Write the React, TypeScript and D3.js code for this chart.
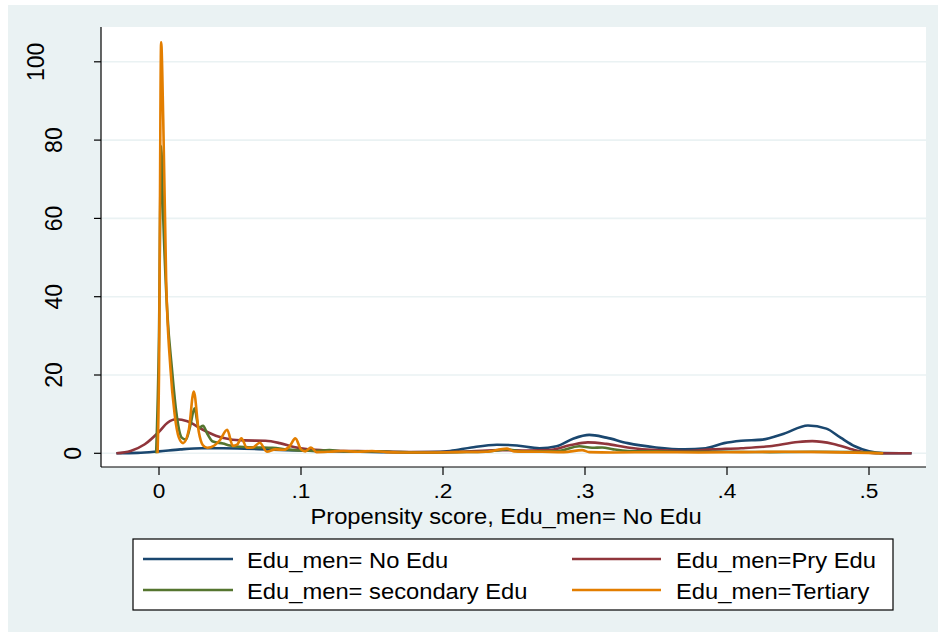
import React from 'react';
import * as d3 from 'd3';

type Pt = [number, number];

// kernel density estimates: [propensity score, density]
const noEduPts: Pt[] = [
  [-0.03, 0], [-0.015, 0.1], [0, 0.5], [0.015, 1.0], [0.03, 1.3], [0.045, 1.3], [0.06, 1.2],
  [0.075, 1.0], [0.09, 0.8], [0.11, 0.6], [0.13, 0.45], [0.15, 0.35], [0.17, 0.25], [0.19, 0.3],
  [0.205, 0.6], [0.22, 1.5], [0.238, 2.2], [0.252, 2.0], [0.268, 1.3], [0.28, 1.8], [0.292, 3.8],
  [0.303, 4.7], [0.315, 4.0], [0.33, 2.6], [0.35, 1.5], [0.37, 1.0], [0.385, 1.3], [0.398, 2.6],
  [0.41, 3.2], [0.425, 3.5], [0.44, 5.0], [0.457, 7.1], [0.47, 6.3], [0.48, 4.0], [0.49, 1.8],
  [0.5, 0.5], [0.51, 0.05], [0.53, 0],
];

const pryEduPts: Pt[] = [
  [-0.03, 0], [-0.02, 0.6], [-0.01, 2.3], [0, 5.5], [0.006, 7.8], [0.012, 8.7], [0.02, 8.2],
  [0.03, 6.2], [0.04, 4.5], [0.05, 3.6], [0.06, 3.3], [0.075, 3.2], [0.085, 2.6], [0.095, 1.6],
  [0.105, 1.0], [0.12, 0.7], [0.15, 0.5], [0.18, 0.3], [0.2, 0.3], [0.22, 0.5], [0.24, 0.8],
  [0.26, 0.7], [0.275, 0.8], [0.29, 2.1], [0.302, 2.8], [0.315, 2.4], [0.33, 1.5], [0.35, 0.8],
  [0.37, 0.6], [0.39, 1.0], [0.41, 1.3], [0.43, 1.8], [0.45, 2.9], [0.46, 3.1], [0.475, 2.4],
  [0.49, 0.8], [0.5, 0.15], [0.51, 0], [0.53, 0],
];

const secEduPts: Pt[] = [
  [-0.002, 0], [0, 30], [0.0015, 78.5], [0.003, 60], [0.006, 35], [0.009, 22], [0.012, 11],
  [0.016, 4], [0.019, 3.5], [0.022, 7], [0.025, 11.5], [0.028, 6.5], [0.031, 7], [0.034, 5],
  [0.038, 3], [0.045, 2.5], [0.05, 2.0], [0.06, 1.6], [0.07, 1.5], [0.08, 1.4], [0.09, 1.0],
  [0.1, 0.7], [0.11, 0.6], [0.12, 0.8], [0.13, 0.5], [0.15, 0.5], [0.17, 0.3], [0.19, 0.2],
  [0.21, 0.3], [0.23, 0.4], [0.245, 1.0], [0.255, 0.5], [0.28, 0.5], [0.296, 1.8], [0.305, 1.4],
  [0.312, 1.5], [0.32, 1.0], [0.33, 0.6], [0.35, 0.5], [0.37, 0.4], [0.4, 0.4], [0.43, 0.3],
  [0.46, 0.4], [0.49, 0.3], [0.505, 0.1], [0.51, 0],
];

const tertiaryPts: Pt[] = [
  [-0.001, 0], [0, 20], [0.0015, 105], [0.003, 85], [0.005, 45], [0.008, 22], [0.011, 10],
  [0.014, 4], [0.017, 2.6], [0.021, 6], [0.0245, 15.8], [0.028, 5.5], [0.031, 2], [0.034, 1.4],
  [0.039, 2], [0.043, 3.4], [0.048, 6], [0.052, 1.9], [0.055, 2.2], [0.058, 3.8], [0.062, 1.4],
  [0.066, 1.5], [0.071, 2.7], [0.076, 0.4], [0.082, 1.0], [0.088, 0.9], [0.092, 1.8], [0.096, 3.8],
  [0.1, 1.0], [0.103, 0.5], [0.107, 1.5], [0.111, 0.3], [0.12, 0.4], [0.13, 0.6], [0.14, 0.4],
  [0.15, 0.6], [0.16, 0.3], [0.17, 0.2], [0.19, 0.2], [0.21, 0.3], [0.23, 0.4], [0.245, 1.2],
  [0.25, 0.5], [0.27, 0.4], [0.285, 0.3], [0.298, 0.8], [0.303, 0.3], [0.32, 0.2], [0.35, 0.3],
  [0.38, 0.2], [0.41, 0.3], [0.44, 0.4], [0.47, 0.3], [0.5, 0.1], [0.51, 0],
];

const seriesLabels = [
  'Edu_men= No Edu',
  'Edu_men=Pry Edu',
  'Edu_men= secondary Edu',
  'Edu_men=Tertiary',
];
const seriesColors = ['#1A476F', '#90353B', '#55752F', '#E37E00'];

const xTicks = [0, 0.1, 0.2, 0.3, 0.4, 0.5];
const xTickLabels = ['0', '.1', '.2', '.3', '.4', '.5'];
const yTicks = [0, 20, 40, 60, 80, 100];

const xTitle = 'Propensity score, Edu_men= No Edu';

const W = 938;
const H = 637;
const plot = { left: 101, right: 926, top: 27, bottom: 467 };
const FONT = '"Liberation Sans", Arial, Helvetica, sans-serif';
const FS = 22;
const STRETCH = 1.08; // Stata's text runs a little wider than Arial

export default function App() {
  const x = d3.scaleLinear().domain([0, 0.5]).range([159, 869]);
  const y = d3.scaleLinear().domain([0, 100]).range([453.3, 61.8]);

  const line = d3.line<Pt>()
    .x(d => x(d[0]))
    .y(d => y(d[1]))
    .curve(d3.curveMonotoneX);

  const allSeries = [noEduPts, pryEduPts, secEduPts, tertiaryPts];

  // legend: 2 columns x 2 rows
  const legend = { left: 133, top: 539, right: 893, bottom: 610 };
  const legendCols = [
    { x1: 143, x2: 233, tx: 247 },
    { x1: 572, x2: 661, tx: 676 },
  ];
  const legendRows = [559, 590];

  return (
    <svg
      width={W}
      height={H}
      viewBox={`0 0 ${W} ${H}`}
      style={{ position: 'absolute', left: 0, top: 0, background: '#fff' }}
      fontFamily={FONT}
    >
      <rect x={8} y={5} width={W - 8} height={627} fill="#EAF2F3" />
      <rect
        x={plot.left}
        y={plot.top}
        width={plot.right - plot.left}
        height={plot.bottom - plot.top}
        fill="#fff"
      />

      {/* Grid lines */}
      {yTicks.map(t => (
        <line key={`g${t}`} x1={plot.left} x2={plot.right} y1={y(t)} y2={y(t)} stroke="#EAF2F3" strokeWidth={1.6} />
      ))}

      {/* Density curves */}
      {allSeries.map((pts, i) => (
        <path
          key={seriesLabels[i]}
          d={line(pts) || ''}
          fill="none"
          stroke={seriesColors[i]}
          strokeWidth={2.6}
          strokeLinejoin="round"
        />
      ))}

      {/* Y axis */}
      <line x1={plot.left} x2={plot.left} y1={plot.top} y2={plot.bottom} stroke="#000" strokeWidth={1.2} />
      {yTicks.map(t => {
        const len = String(t).length;
        const bx = 99 - 18.5 * len;
        return (
          <g key={`y${t}`}>
            <line x1={plot.left - 7} x2={plot.left} y1={y(t)} y2={y(t)} stroke="#000" strokeWidth={1.2} />
            <text
              transform={`translate(${bx}, ${y(t)}) rotate(-90)`}
              textAnchor="middle"
              fontSize={23}
              fill="#000"
            >
              {t}
            </text>
          </g>
        );
      })}

      {/* X axis */}
      <line x1={plot.left} x2={plot.right} y1={plot.bottom} y2={plot.bottom} stroke="#000" strokeWidth={1.2} />
      {xTicks.map((t, i) => (
        <g key={`x${t}`}>
          <line x1={x(t)} x2={x(t)} y1={plot.bottom} y2={plot.bottom + 8} stroke="#000" strokeWidth={1.2} />
          <text
            transform={`translate(${x(t)}, 498) scale(${STRETCH}, 1)`}
            textAnchor="middle"
            fontSize={21}
            fill="#000"
          >
            {xTickLabels[i]}
          </text>
        </g>
      ))}
      <text
        transform={`translate(506, 524) scale(${STRETCH}, 1)`}
        textAnchor="middle"
        fontSize={FS}
        fill="#000"
      >
        {xTitle}
      </text>

      {/* Legend */}
      <rect
        x={legend.left}
        y={legend.top}
        width={legend.right - legend.left}
        height={legend.bottom - legend.top}
        fill="#fff"
        stroke="#000"
        strokeWidth={1.2}
      />
      {seriesLabels.map((label, i) => {
        const col = legendCols[i % 2];
        const ry = legendRows[Math.floor(i / 2)];
        return (
          <g key={`l${i}`}>
            <line x1={col.x1} x2={col.x2} y1={ry} y2={ry} stroke={seriesColors[i]} strokeWidth={2.6} />
            <text
              transform={`translate(${col.tx}, ${ry + 8.5}) scale(${STRETCH}, 1)`}
              fontSize={FS}
              fill="#000"
            >
              {label}
            </text>
          </g>
        );
      })}
    </svg>
  );
}
